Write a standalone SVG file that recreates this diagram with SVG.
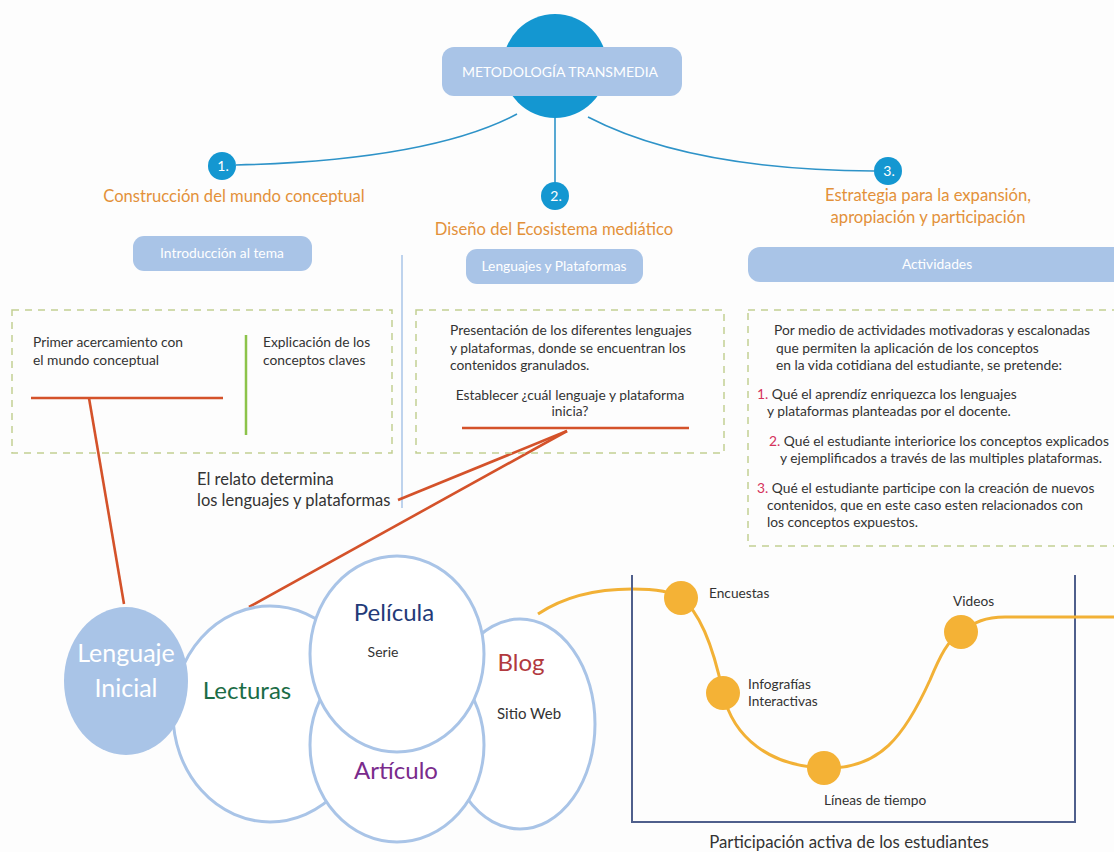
<svg xmlns="http://www.w3.org/2000/svg" width="1114" height="852" viewBox="0 0 1114 852">
  <defs>
    <style>
      text { font-family: Lato, "Liberation Sans", sans-serif; }
      .title { fill: #e3913a; font-size: 16.6px; text-anchor: middle; }
      .pill { fill: #a9c4e7; }
      .pilltxt { fill: #ffffff; font-size: 13.8px; text-anchor: middle; }
      .num { fill: #1497d1; }
      .numtxt { fill: #ffffff; font-size: 14px; text-anchor: middle; }
      .dash { fill: none; stroke: #c2cf92; stroke-width: 1.5; stroke-dasharray: 7 6; }
      .body { fill: #333333; font-size: 13.8px; }
      .red { fill: #d5335c; }
      .link { fill: none; stroke: #2e93c8; stroke-width: 1.6; }
      .redline { fill: none; stroke: #d4522a; stroke-width: 2.6; }
      .bubble { fill: #ffffff; stroke: #a9c4e7; stroke-width: 3; }
      .track { fill: none; stroke: #f2b136; stroke-width: 3; }
      .dot { fill: #f4b236; }
      .frame { fill: none; stroke: #4f5f8c; stroke-width: 2; }
      .lbl { fill: #333333; font-size: 13.7px; }
      .note { fill: #333333; font-size: 16.5px; }
    </style>
  </defs>
  <rect width="1114" height="852" fill="#fdfdfd"/>

  <!-- connectors -->
  <g id="connectors">
    <path class="link" d="M517,114 Q430,160 236,165"/>
    <path class="link" d="M555,116 L555,183"/>
    <path class="link" d="M588,117 Q690,170 874,171"/>
    <line x1="402" y1="255" x2="402" y2="508" stroke="#a9c4e7" stroke-width="1.5"/>
    <line class="redline" x1="89" y1="398" x2="124" y2="604"/>
    <line class="redline" x1="567" y1="431" x2="398" y2="500"/>
    <line class="redline" x1="567" y1="431" x2="249" y2="607"/>
    <path class="track" d="M538,614 C565,596 595,589 632,589 C655,589 672,591 681,598"/>
  </g>

  <!-- central hub -->
  <g id="hub">
    <circle cx="555" cy="66" r="52" fill="#1497d1"/>
    <rect x="442" y="47" width="240" height="49" rx="12" class="pill"/>
    <text x="560" y="77" fill="#ffffff" font-size="14" text-anchor="middle">METODOLOGÍA TRANSMEDIA</text>
  </g>

  <!-- branch 1 -->
  <g id="branch1">
    <circle class="num" cx="222" cy="166" r="14"/>
    <text class="numtxt" x="223" y="171">1.</text>
    <text class="title" x="234" y="202">Construcción del mundo conceptual</text>
    <rect class="pill" x="133" y="236" width="179" height="35" rx="11"/>
    <text class="pilltxt" x="222" y="258">Introducción al tema</text>
  </g>

  <!-- branch 2 -->
  <g id="branch2">
    <circle class="num" cx="555" cy="196" r="14"/>
    <text class="numtxt" x="556" y="201">2.</text>
    <text class="title" x="554" y="235">Diseño del Ecosistema mediático</text>
    <rect class="pill" x="466" y="249" width="177" height="35" rx="11"/>
    <text class="pilltxt" x="554" y="271">Lenguajes y Plataformas</text>
  </g>

  <!-- branch 3 -->
  <g id="branch3">
    <circle class="num" cx="888" cy="171" r="14"/>
    <text class="numtxt" x="889" y="176">3.</text>
    <text class="title" x="928" y="201">Estrategia para la expansión,</text>
    <text class="title" x="928" y="223">apropiación y participación</text>
    <rect class="pill" x="748" y="247" width="380" height="35" rx="12"/>
    <text class="pilltxt" x="937" y="269">Actividades</text>
  </g>

  <!-- box 1 -->
  <g id="box1">
    <rect class="dash" x="12" y="310" width="380" height="143"/>
    <text class="body" x="33" y="347">Primer acercamiento con</text>
    <text class="body" x="33" y="365">el mundo conceptual</text>
    <line x1="246" y1="335" x2="246" y2="435" stroke="#8cc34a" stroke-width="2.5"/>
    <text class="body" x="263" y="347">Explicación de los</text>
    <text class="body" x="263" y="365">conceptos claves</text>
    <line class="redline" x1="31" y1="398" x2="223" y2="398"/>
  </g>

  <!-- box 2 -->
  <g id="box2">
    <rect class="dash" x="416" y="310" width="308" height="143"/>
    <text class="body" x="450" y="335">Presentación de los diferentes lenguajes</text>
    <text class="body" x="450" y="353">y plataformas, donde se encuentran los</text>
    <text class="body" x="450" y="370">contenidos granulados.</text>
    <text class="body" x="570" y="400" text-anchor="middle">Establecer ¿cuál lenguaje y plataforma</text>
    <text class="body" x="570" y="416" text-anchor="middle">inicia?</text>
    <line class="redline" x1="462" y1="428" x2="689" y2="428"/>
  </g>

  <!-- narrative note -->
  <g id="note">
    <text class="note" x="197" y="485">El relato determina</text>
    <text class="note" x="197" y="506">los lenguajes y plataformas</text>
  </g>

  <!-- box 3 -->
  <g id="box3">
    <rect class="dash" x="748" y="310" width="380" height="236"/>
    <text class="body" x="774" y="335">Por medio de actividades motivadoras y escalonadas</text>
    <text class="body" x="776" y="353">que permiten la aplicación de los conceptos</text>
    <text class="body" x="776" y="370">en la vida cotidiana del estudiante, se pretende:</text>
    <text class="body" x="757" y="399"><tspan class="red">1.</tspan> Qué el aprendíz enriquezca los lenguajes</text>
    <text class="body" x="767" y="416">y plataformas planteadas por el docente.</text>
    <text class="body" x="769" y="446"><tspan class="red">2.</tspan> Qué el estudiante interiorice los conceptos explicados</text>
    <text class="body" x="780" y="463">y ejemplificados a través de las multiples plataformas.</text>
    <text class="body" x="757" y="493"><tspan class="red">3.</tspan> Qué el estudiante participe con la creación de nuevos</text>
    <text class="body" x="767" y="510">contenidos, que en este caso esten relacionados con</text>
    <text class="body" x="767" y="527">los conceptos expuestos.</text>
  </g>

  <!-- media bubbles -->
  <g id="blog">
    <ellipse class="bubble" cx="520" cy="724" rx="75" ry="105"/>
    <text x="521" y="671" fill="#b23a3e" font-size="24" text-anchor="middle">Blog</text>
    <text x="529" y="719" fill="#333333" font-size="15" text-anchor="middle">Sitio Web</text>
  </g>
  <g id="lecturas">
    <ellipse class="bubble" cx="270" cy="714" rx="97" ry="108"/>
    <text x="247" y="699" fill="#1b6c46" font-size="24" text-anchor="middle">Lecturas</text>
  </g>
  <g id="articulo">
    <ellipse class="bubble" cx="397" cy="745" rx="87" ry="97"/>
    <text x="396" y="779" fill="#7a2b8c" font-size="24" text-anchor="middle">Artículo</text>
  </g>
  <g id="pelicula">
    <ellipse class="bubble" cx="397" cy="654" rx="87" ry="98"/>
    <text x="394" y="621" fill="#233a78" font-size="24" text-anchor="middle">Película</text>
    <text x="383" y="657" fill="#333333" font-size="14" text-anchor="middle">Serie</text>
  </g>
  <g id="lenguaje-inicial">
    <ellipse cx="126" cy="681" rx="62" ry="74" fill="#a9c4e7"/>
    <text x="126" y="662" fill="#ffffff" font-size="25" text-anchor="middle">Lenguaje</text>
    <text x="126" y="697" fill="#ffffff" font-size="25" text-anchor="middle">Inicial</text>
  </g>

  <!-- participation chart -->
  <g id="chart">
    <path class="frame" d="M632,575 L632,822 L1075,822 L1075,575"/>
    <path class="track" d="M681,598 C700,612 714,650 723,693 C733,738 770,766 824,768 C880,770 905,735 930,680 C940,656 948,640 961,632 C975,622 985,617 1005,617 L1114,617"/>
    <text x="849" y="848" fill="#333333" font-size="16.8" text-anchor="middle">Participación activa de los estudiantes</text>
  </g>
  <g id="encuestas">
    <circle class="dot" cx="681" cy="598" r="17"/>
    <text class="lbl" x="709" y="598">Encuestas</text>
  </g>
  <g id="infografias">
    <circle class="dot" cx="723" cy="693" r="17"/>
    <text class="lbl" x="748" y="689">Infografías</text>
    <text class="lbl" x="748" y="706">Interactivas</text>
  </g>
  <g id="lineas">
    <circle class="dot" cx="824" cy="768" r="17"/>
    <text class="lbl" x="824" y="805">Líneas de tiempo</text>
  </g>
  <g id="videos">
    <circle class="dot" cx="961" cy="632" r="17"/>
    <text class="lbl" x="953" y="606">Videos</text>
  </g>
</svg>
